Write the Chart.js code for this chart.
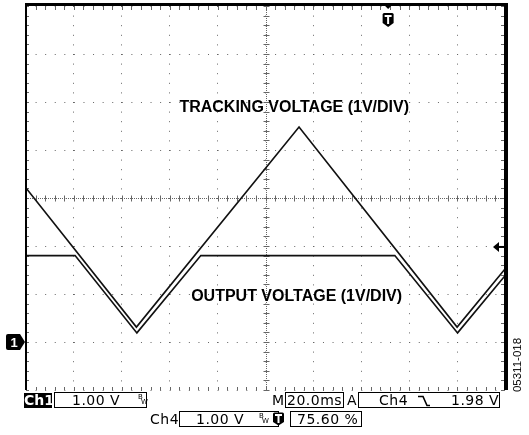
<!DOCTYPE html>
<html><head><meta charset="utf-8">
<script src="https://cdn.jsdelivr.net/npm/chart.js@4.4.0/dist/chart.umd.min.js"></script>
<style>
html,body{margin:0;padding:0;background:#fff;}
#wrap{position:relative;width:529px;height:435px;overflow:hidden;background:#fff;}
#c{position:absolute;left:0;top:0;}
.st{position:absolute;font-family:"DejaVu Sans",Verdana,sans-serif;font-size:14px;line-height:14px;color:#000;white-space:nowrap;letter-spacing:0.5px;}
.box{position:absolute;border:1px solid #000;box-sizing:border-box;height:16px;}
.bw{position:absolute;font-family:"DejaVu Sans",sans-serif;font-size:7px;line-height:7px;}
#code{position:absolute;left:477px;top:358px;width:80px;height:14px;transform:rotate(-90deg);transform-origin:40px 7px;font-family:"Liberation Sans",Arial,sans-serif;font-size:11.5px;line-height:14px;text-align:center;}
</style>
</head><body>
<div id="wrap">
<canvas id="c" width="529" height="435"></canvas>

<div class="st" style="left:24px;top:393px;width:28px;height:15px;background:#000;color:#fff;font-weight:bold;text-align:center;letter-spacing:0;line-height:15px;">Ch1</div>
<div class="box" style="left:54px;top:392px;width:93px;"></div>
<div class="st" style="left:72px;top:393px;">1.00 V</div>
<div class="bw" style="left:138px;top:394px;">B</div><div class="bw" style="left:141px;top:399px;">W</div>

<div class="st" style="left:272px;top:393px;">M</div>
<div class="box" style="left:285px;top:392px;width:59px;"></div>
<div class="st" style="left:287px;top:393px;">20.0ms</div>
<div class="st" style="left:347px;top:393px;">A</div>
<div class="box" style="left:358px;top:392px;width:142px;"></div>
<div class="st" style="left:379px;top:393px;">Ch4</div>
<svg style="position:absolute;left:417px;top:395px;" width="14" height="12"><path d="M1 1.5 H6 L10 10.5 H13" fill="none" stroke="#000" stroke-width="1.6"/></svg>
<div class="st" style="left:451px;top:393px;">1.98 V</div>

<div class="st" style="left:150px;top:412px;">Ch4</div>
<div class="box" style="left:179px;top:411px;width:100px;"></div>
<div class="st" style="left:196px;top:412px;">1.00 V</div>
<div class="bw" style="left:259px;top:413px;">B</div><div class="bw" style="left:262px;top:418px;">W</div>
<svg style="position:absolute;left:272px;top:412px;" width="13" height="14"><path d="M1 2 Q1 0.5 2.5 0.5 H10.5 Q12 0.5 12 2 V10 L6.5 13.5 L1 10 Z" fill="#000"/><path d="M3 3 H10 M6.5 3 V11" stroke="#fff" stroke-width="2"/></svg>
<div class="box" style="left:290px;top:411px;width:72px;"></div>
<div class="st" style="left:297px;top:412px;">75.60 %</div>

<div id="code">05311-018</div>
</div>
<script>
// ---- data (oscilloscope capture, 20 ms/div, 1 V/div, ground of Ch1 at 0 V) ----
const timeTicksMs = [0, 20, 40, 60, 80, 100, 120, 140, 160, 180, 200];
const voltTicks = [-1, 0, 1, 2, 3, 4, 5, 6, 7];
const trackingT = [0, 46.1, 114.0, 180.0, 200];
const trackingV = [3.21, 0.31, 4.48, 0.31, 1.52];
const outputT = [0, 20.5, 46.3, 73.0, 154.0, 180.2, 200];
const outputV = [1.80, 1.80, 0.19, 1.80, 1.80, 0.19, 1.38];
const triggerPosMs = 151.2;   // 75.60 % of record
const triggerLevelV = 1.98;
const groundV = 0;
const labels = [
  {text: 'TRACKING VOLTAGE (1V/DIV)', t: 112, v: 4.80},
  {text: 'OUTPUT VOLTAGE (1V/DIV)', t: 113, v: 0.85}
];

const toXY = (ts, vs) => ts.map((t, i) => ({x: t, y: vs[i]}));

const scopePlugin = {
  id: 'scope',
  beforeDatasetsDraw(chart) {
    const {ctx, chartArea: a, scales: {x, y}} = chart;
    ctx.save();
    ctx.strokeStyle = '#666';
    ctx.lineWidth = 1;
    const cx = Math.round(x.getPixelForValue(100)) + 0.5;
    const cy = Math.round(y.getPixelForValue(3)) + 0.5;
    ctx.setLineDash([1, 1]);
    ctx.beginPath();
    ctx.moveTo(cx, a.top); ctx.lineTo(cx, a.bottom);
    ctx.moveTo(a.left, cy); ctx.lineTo(a.right, cy);
    ctx.stroke();
    ctx.setLineDash([]);
    ctx.beginPath();
    for (let v = -1; v <= 7.001; v += 0.2) {
      const py = Math.round(y.getPixelForValue(v)) + 0.5;
      ctx.moveTo(cx - 3, py); ctx.lineTo(cx + 3, py);
      ctx.moveTo(a.left, py); ctx.lineTo(a.left + 3, py);
      ctx.moveTo(a.right - 4, py); ctx.lineTo(a.right, py);
    }
    for (let t = 0; t <= 200.001; t += 4) {
      const px = Math.round(x.getPixelForValue(t)) + 0.5;
      ctx.moveTo(px, cy - 3); ctx.lineTo(px, cy + 3);
      ctx.moveTo(px, a.top); ctx.lineTo(px, a.top + 4);
      ctx.moveTo(px, a.bottom - 3); ctx.lineTo(px, a.bottom);
    }
    ctx.stroke();
    ctx.restore();
  },
  afterDraw(chart) {
    const {ctx, chartArea: a, scales: {x, y}} = chart;
    ctx.save();
    ctx.fillStyle = '#000';
    ctx.fillRect(a.left - 1, a.top - 3, a.right - a.left + 4, 3);
    ctx.fillRect(a.left - 1, a.top - 3, 2, a.bottom - a.top + 3);
    ctx.fillRect(a.right - 1, a.top - 3, 4, a.bottom - a.top + 3);
    ctx.font = 'bold 16px "Liberation Sans", Arial, sans-serif';
    ctx.textAlign = 'center';
    ctx.textBaseline = 'alphabetic';
    labels.forEach(l => ctx.fillText(l.text, x.getPixelForValue(l.t), y.getPixelForValue(l.v)));
    const tx = x.getPixelForValue(triggerPosMs);
    ctx.beginPath();
    ctx.moveTo(tx - 5, a.top - 2); ctx.lineTo(tx + 5, a.top - 2); ctx.lineTo(tx, a.top + 3); ctx.closePath();
    ctx.fill();
    ctx.beginPath();
    const sy = a.top + 7;
    ctx.moveTo(tx - 5.5, sy + 1.5);
    ctx.quadraticCurveTo(tx - 5.5, sy, tx - 4, sy);
    ctx.lineTo(tx + 4, sy);
    ctx.quadraticCurveTo(tx + 5.5, sy, tx + 5.5, sy + 1.5);
    ctx.lineTo(tx + 5.5, sy + 10);
    ctx.lineTo(tx, sy + 14);
    ctx.lineTo(tx - 5.5, sy + 10);
    ctx.closePath();
    ctx.fill();
    ctx.strokeStyle = '#fff'; ctx.lineWidth = 2;
    ctx.beginPath();
    ctx.moveTo(tx - 3.5, sy + 3); ctx.lineTo(tx + 3.5, sy + 3);
    ctx.moveTo(tx, sy + 3); ctx.lineTo(tx, sy + 11);
    ctx.stroke();
    const gy = y.getPixelForValue(groundV);
    ctx.fillStyle = '#000';
    ctx.beginPath();
    ctx.moveTo(8, gy - 8); ctx.lineTo(20, gy - 8); ctx.lineTo(25, gy); ctx.lineTo(20, gy + 8); ctx.lineTo(8, gy + 8);
    ctx.quadraticCurveTo(6, gy + 8, 6, gy + 6); ctx.lineTo(6, gy - 6); ctx.quadraticCurveTo(6, gy - 8, 8, gy - 8);
    ctx.closePath(); ctx.fill();
    ctx.fillStyle = '#fff';
    ctx.font = 'bold 13px "Liberation Sans", Arial, sans-serif';
    ctx.textAlign = 'center'; ctx.textBaseline = 'middle';
    ctx.fillText('1', 14, gy + 1);
    const ly = y.getPixelForValue(triggerLevelV);
    ctx.fillStyle = '#000';
    ctx.beginPath();
    ctx.moveTo(a.right - 12, ly); ctx.lineTo(a.right - 6, ly - 5); ctx.lineTo(a.right - 6, ly + 5); ctx.closePath(); ctx.fill();
    ctx.fillRect(a.right - 7, ly - 1, 7, 2);
    ctx.restore();
  }
};

const gridCommon = {color: '#666', lineWidth: 1, drawTicks: false};

new Chart(document.getElementById('c'), {
  type: 'line',
  data: {
    datasets: [
      {label: 'Tracking voltage', data: toXY(trackingT, trackingV), borderColor: '#111', borderWidth: 1.6, pointRadius: 0, tension: 0, fill: false},
      {label: 'Output voltage', data: toXY(outputT, outputV), borderColor: '#111', borderWidth: 1.6, pointRadius: 0, tension: 0, fill: false}
    ]
  },
  options: {
    responsive: false,
    animation: false,
    devicePixelRatio: 1,
    layout: {padding: {left: 26, right: 24, top: 6, bottom: 45}},
    plugins: {legend: {display: false}, tooltip: {enabled: false}},
    scales: {
      x: {
        type: 'linear', min: timeTicksMs[0], max: timeTicksMs[timeTicksMs.length - 1],
        afterBuildTicks: s => { s.ticks = timeTicksMs.map(v => ({value: v})); },
        ticks: {display: false},
        grid: gridCommon,
        border: {display: false, dash: [1, 8.6]},
        afterFit: s => { s.height = 0; }
      },
      y: {
        type: 'linear', min: voltTicks[0], max: voltTicks[voltTicks.length - 1],
        afterBuildTicks: s => { s.ticks = voltTicks.map(v => ({value: v})); },
        ticks: {display: false},
        grid: gridCommon,
        border: {display: false, dash: [1, 8.58]},
        afterFit: s => { s.width = 0; }
      }
    }
  },
  plugins: [scopePlugin]
});
</script>
</body></html>
